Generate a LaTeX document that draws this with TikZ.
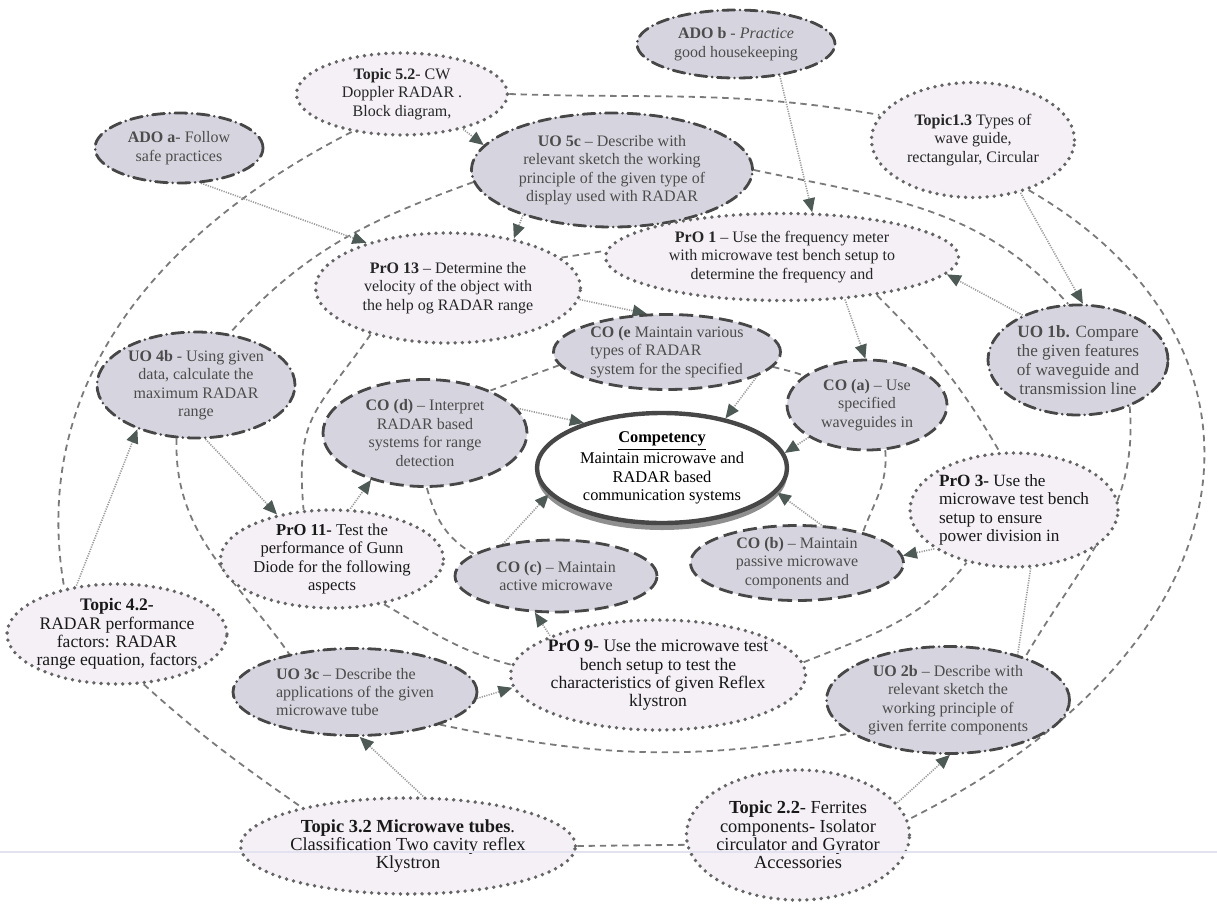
\documentclass[tikz,border=0pt]{standalone}
\usepackage{fontspec}
\setmainfont{Liberation Serif}
\usetikzlibrary{arrows.meta,shapes.geometric,shadows,backgrounds}
\definecolor{mFillDk}{HTML}{D6D5DF}
\definecolor{mFillLt}{HTML}{F4F0F6}
\definecolor{mEdge}  {HTML}{474747}
\definecolor{mDot}   {HTML}{646464}
\definecolor{mLink}  {HTML}{7A7A7A}
\definecolor{mArr}   {HTML}{9C9C9C}
\definecolor{mTip}   {HTML}{4E5A56}
\definecolor{mTxt}   {HTML}{4C4C4C}
\definecolor{mPage}  {HTML}{E2E2F0}

\begin{document}
\begin{tikzpicture}[
  x=0.5pt, y=0.5pt,
  every node/.style={font=\fontsize{8}{9.2}\selectfont},
  ovl/.style={ellipse, inner xsep=-30pt, inner ysep=-20pt, align=center},
  big/.style={font=\fontsize{#1}{9.2}\selectfont, text=black!90},
  kn/.style={ovl, fill=mFillLt, draw=mDot, line width=1.9pt, line cap=round,
             dash pattern=on 0pt off 3.6pt, text=black!85},
  pr/.style={kn},
  uo/.style={ovl, fill=mFillDk, draw=mEdge, line width=1.4pt, line cap=round,
             dash pattern=on 6pt off 2.6pt on 0pt off 2.6pt, text=mTxt},
  co/.style={ovl, fill=mFillDk, draw=mEdge, line width=1.4pt,
             dash pattern=on 7pt off 3pt, text=mTxt},
  cmp/.style={ovl, fill=white, draw=mEdge, line width=2.2pt,
              drop shadow={shadow xshift=0pt, shadow yshift=-3.5pt, fill=black!55, opacity=0.8},
              font=\fontsize{8.2}{9.3}\selectfont},
  sz/.style 2 args={minimum width=#1, minimum height=#2},
  ln/.style={draw=mLink, line width=0.9pt, dash pattern=on 3.2pt off 2.4pt},
  arl/.style={draw=mArr, line width=0.8pt, dash pattern=on 0.6pt off 0.6pt},
  ar/.style={arl, -{Triangle[length=7pt, width=6pt, color=mTip]}},
]
\useasboundingbox (0,0) rectangle (1217,-906);

% ============================================================ TOP
\node[uo, sz={99pt}{34pt}] (ADOb) at (736,-44)
  {\textbf{ADO b} - \textit{Practice}\\good housekeeping};
\node[kn, sz={105.5pt}{41pt}] (T52) at (402,-94)
  {\textbf{Topic 5.2}- CW\\Doppler RADAR .\\Block diagram,};
\node[uo, sz={84pt}{35pt}] (ADOa) at (179,-148)
  {\textbf{ADO a}- Follow\\safe practices};
\node[kn, sz={101.5pt}{57.5pt}] (T13) at (973,-140)
  {\textbf{Topic1.3} Types of\\wave guide,\\rectangular, Circular};
\node[uo, sz={140.5pt}{57pt}] (UO5c) at (612,-170)
  {\textbf{UO 5c} – Describe with\\relevant sketch the working\\principle of the given type of\\display used with RADAR};
\node[pr, sz={176.5pt}{43.5pt}] (PrO1) at (782,-257)
  {\textbf{PrO 1} – Use the frequency meter\\with microwave test bench setup to\\determine the frequency and};
\node[pr, sz={132.5pt}{55pt}] (PrO13) at (448,-288)
  {\textbf{PrO 13} – Determine the\\velocity of the object with\\the help og  RADAR range};
\node[uo, sz={90pt}{55pt}, font=\fontsize{8.6}{9.4}\selectfont] (UO1b) at (1078,-360)
  {\textbf{UO 1b.} Compare\\the given features\\of waveguide and\\transmission line};

% ============================================================ MIDDLE
\node[co, sz={113.5pt}{37.5pt}, align=left] (COe) at (667,-352)
  {\textbf{CO (e} Maintain various\\types of RADAR\\system for the specified};
\node[uo, sz={99pt}{53pt}] (UO4b) at (196,-385)
  {\textbf{UO 4b} - Using given\\data, calculate the\\maximum RADAR\\range};
\node[co, sz={102pt}{53.5pt}] (COd) at (425,-433)
  {\textbf{CO (d)} – Interpret\\RADAR based\\systems for range\\detection};
\node[co, sz={80pt}{45pt}] (COa) at (867,-405)
  {\textbf{CO (a)} – Use\\specified\\waveguides in};
\node[cmp, sz={125pt}{55pt}] (comp) at (662,-468)
  {\textbf{\underline{Competency}}\\Maintain microwave and\\RADAR based\\communication systems};
\node[pr, sz={104pt}{57pt}, align=left, big=8.6] (PrO3) at (1014,-510)
  {\textbf{PrO 3-} Use the\\microwave test bench\\setup to ensure\\power division in};
\node[pr, sz={111.5pt}{49pt}, big=8.3] (PrO11) at (332,-559)
  {\textbf{PrO 11-} Test the\\performance of Gunn\\Diode for the following\\aspects};
\node[co, sz={101pt}{36pt}] (COc) at (556,-576)
  {\textbf{CO (c)} – Maintain\\active microwave};
\node[co, sz={106.5pt}{37.5pt}] (COb) at (797,-563)
  {\textbf{CO (b)} – Maintain\\passive microwave\\components and};

% ============================================================ BOTTOM
\node[kn, sz={110pt}{50pt}, big=8.8] (T42) at (117,-634)
  {\textbf{Topic 4.2-}\\RADAR performance\\factors: RADAR\\range equation, factors};
\node[uo, sz={122pt}{43.5pt}, align=left] (UO3c) at (355,-692)
  {\textbf{UO 3c} – Describe the\\applications of the given\\microwave tube};
\node[pr, sz={147.5pt}{55pt}, big=8.8] (PrO9) at (658,-675)
  {\textbf{PrO 9}- Use the microwave test\\bench setup to test  the\\characteristics of given Reflex\\klystron};
\node[uo, sz={121.5pt}{53.5pt}] (UO2b) at (948,-700)
  {\textbf{UO  2b} – Describe with\\relevant sketch the\\working principle of\\given ferrite components};
\node[kn, sz={167.5pt}{48pt}, big=9.2] (T32) at (408,-846)
  {\textbf{Topic 3.2 Microwave tubes}.\\Classification Two cavity reflex\\Klystron};
\node[kn, sz={111.5pt}{65pt}, big=9.2] (T22) at (798,-835)
  {\textbf{Topic 2.2}- Ferrites\\components- Isolator\\circulator and Gyrator\\Accessories};

% page edge of the scan
\draw[mPage, line width=1.2pt] (0,-852) -- (1217,-852);

% ============================================================ links
\begin{scope}[on background layer]
\draw[ln] (T52.east) to[out=-2,in=170] (T13.165);
\draw[ln] (UO5c.east) to[out=-12,in=132] (UO1b.100);
\draw[ln] (T13.-42) .. controls (1290,-340) and (1268,-640) .. (T22.8);
\draw[ln] (PrO1.-22) to[out=-45,in=120] (PrO3.104);
\draw[ln] (UO1b.-42) to[out=-85,in=60] (UO2b.29);
\draw[ln] (COa.-68) to[out=-85,in=70] (COb.25);
\draw[ln] (COe.-8) to[out=-15,in=160] (COa.155);
\draw[ln] (COe.187) -- (COd.33);
\draw[ln] (PrO13.15) -- (PrO1.178);
\draw[ln] (UO5c.185) to[out=200,in=48] (UO4b.57);
\draw[ln] (T52.217) to[out=207,in=100] (T42.139);
\draw[ln] (UO4b.-110) to[out=-92,in=125] (UO3c.150);
\draw[ln] (PrO13.211) to[out=235,in=95,looseness=1.3] (PrO11.120);
\draw[ln] (COd.-88) to[out=-75,in=150] (COc.165);
\draw[ln] (T42.-62) to[out=-42,in=145] (T32.160);
\draw[ln] (T32.east) -- (T22.185);
\draw[ln] (UO3c.-21) to[out=-12,in=190] (UO2b.199);
\draw[ln] (PrO9.5) to[out=22,in=232] (PrO3.228);
\draw[ln] (PrO11.-41) to[out=-30,in=165] (PrO9.176);

% ---- arrows
\draw[ar] (ADOa.-58) -- (PrO13.151);
\draw[ar] (T52.-30) -- (UO5c.169);
\draw[ar] (ADOb.-36) -- (PrO1.56);
\draw[ar] (UO5c.207) -- (PrO13.37);
\draw[ar] (T13.-48) -- (UO1b.85);
\draw[ar] (UO1b.141) -- (PrO1.-6);
\draw[ar] (PrO13.-5) -- (COe.118);
\draw[ar] (PrO1.-34) -- (COa.92);
\draw[ar] (COe.-15) -- (comp.38);
\draw[ar] (COd.15) -- (comp.150);
\draw[ar] (COa.209) -- (comp.7);
\draw[ar] (COc.149) -- (comp.193);
\draw[ar] (COb.57) -- (comp.-12);
\draw[ar] (PrO3.206) -- (COb.4);
\draw[ar] (UO4b.-80) -- (PrO11.141);
\draw[ar] (PrO11.70) -- (COd.221);
\draw[ar] (T42.130) -- (UO4b.217);
\draw[ar] (T32.73) -- (UO3c.-84);
\draw[ar] (UO3c.-3) -- (PrO9.185);
\draw[ar] (PrO9.160) -- (COc.240);
\draw[ar] (T22.18) -- (UO2b.-88);
\draw[arl] (PrO3.-74) -- (UO2b.33);
\end{scope}

\end{tikzpicture}
\end{document}
